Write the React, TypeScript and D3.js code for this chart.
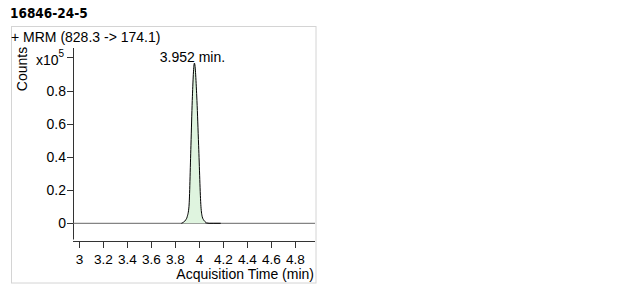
import React from "react";
import * as d3 from "d3";

const title = "16846-24-5";
const subtitle = "+ MRM (828.3 -> 174.1)";
const peakLabel = "3.952 min.";
const xTicks = [3, 3.2, 3.4, 3.6, 3.8, 4, 4.2, 4.4, 4.6, 4.8];
const yTicks = [0, 0.2, 0.4, 0.6, 0.8];
const traceTime = [3.85, 3.86, 3.873, 3.885, 3.898, 3.9125, 3.929, 3.94, 3.958, 3.979, 3.993, 4.0125, 4.023, 4.035, 4.046, 4.06, 4.08, 4.12, 4.177];
const traceCounts = [0, 0.004, 0.01, 0.02, 0.04, 0.1, 0.47, 0.74, 0.965, 0.74, 0.47, 0.1, 0.04, 0.02, 0.01, 0.002, 0, 0, 0];
const fillStart = 3.86;
const fillEnd = 4.05;

const FONT = "'Liberation Sans', Arial, sans-serif";

export default function App() {
  const x = d3.scaleLinear().domain([2.946, 4.963]).range([73, 315]);
  const y = d3.scaleLinear().domain([0, 1]).range([223.3, 57.3]);
  const pts = traceTime.map((t, i) => ({ t, v: traceCounts[i] }));
  const line = d3
    .line<{ t: number; v: number }>()
    .x((d) => x(d.t))
    .y((d) => y(d.v))
    .curve(d3.curveMonotoneX);
  const area = d3
    .area<{ t: number; v: number }>()
    .x((d) => x(d.t))
    .y0(y(0))
    .y1((d) => y(d.v))
    .curve(d3.curveMonotoneX);
  const fillPts = pts.filter((d) => d.t >= fillStart && d.t <= fillEnd);
  const apex = pts.reduce((a, b) => (b.v > a.v ? b : a));

  return (
    <svg
      width={634}
      height={293}
      style={{ position: "absolute", left: 0, top: 0, background: "#fff" }}
      fontFamily={FONT}
    >
      <text x={10} y={18} fontSize={13.5} fontWeight="bold" fontFamily="'DejaVu Sans Condensed', 'DejaVu Sans', sans-serif">
        {title}
      </text>
      <rect x={11.5} y={26.5} width={304.5} height={256.5} fill="none" stroke="#d4d4d4" strokeWidth={1} />
      <text x={11} y={41.5} fontSize={14}>
        {subtitle}
      </text>

      {/* y axis */}
      <line x1={73.5} x2={73.5} y1={48} y2={239.5} stroke="#333" strokeWidth={1} />
      {yTicks.concat([1]).map((v) => (
        <line key={"yt" + v} x1={67} x2={73.5} y1={Math.round(y(v)) + 0.5} y2={Math.round(y(v)) + 0.5} stroke="#333" />
      ))}
      {yTicks.map((v) => (
        <text key={"yl" + v} x={66} y={y(v) + 5} fontSize={14} textAnchor="end">
          {v === 0 ? "0" : String(v)}
        </text>
      ))}
      <text x={36} y={65} fontSize={14}>
        x10
        <tspan fontSize={10} dy={-8}>5</tspan>
      </text>
      <text transform="translate(27,69) rotate(-90)" fontSize={14} textAnchor="middle">
        Counts
      </text>

      {/* x axis */}
      <line x1={73} x2={315} y1={241.5} y2={241.5} stroke="#333" />
      {xTicks.map((t) => (
        <line key={"xt" + t} x1={Math.round(x(t)) + 0.5} x2={Math.round(x(t)) + 0.5} y1={241.5} y2={248} stroke="#333" />
      ))}
      {xTicks.map((t) => (
        <text key={"xl" + t} x={x(t)} y={263.5} fontSize={13.6} textAnchor="middle">
          {String(t)}
        </text>
      ))}
      <text x={314} y={278.5} fontSize={14} textAnchor="end">
        Acquisition Time (min)
      </text>

      {/* baseline */}
      <line x1={73} x2={315} y1={y(0)} y2={y(0)} stroke="#666" strokeWidth={1} />
      <path d={area(fillPts) || ""} fill="#dff4df" stroke="none" />
      <path d={line(pts) || ""} fill="none" stroke="#000" strokeWidth={1} />
      <text x={x(apex.t) - 2} y={62} fontSize={14} textAnchor="middle">
        {peakLabel}
      </text>
    </svg>
  );
}
